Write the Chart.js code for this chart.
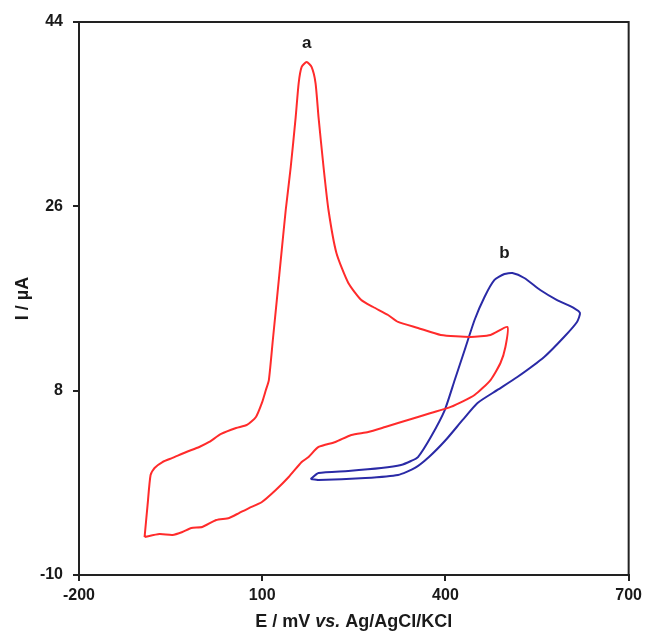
<!DOCTYPE html>
<html>
<head>
<meta charset="utf-8">
<script src="https://cdn.jsdelivr.net/npm/chart.js@4/dist/chart.umd.min.js"></script>
<style>
  html, body { margin: 0; padding: 0; background: #fff; }
  #wrap { width: 647px; height: 631px; }
</style>
</head>
<body>
<div id="wrap"><canvas id="c" width="647" height="631"></canvas></div>
<script>
// Curve a (red): potential (mV) and current (µA)
const potentialA = [-92.6,-87.7,-82.8,-76.3,-63.3,-47.0,-24.2,-3.1,13.2,32.7,57.2,75.0,89.7,99.5,106.0,110.9,117.4,123.9,132.0,138.5,146.7,154.8,159.7,164.6,172.7,180.8,187.3,192.2,200.4,208.5,221.5,241.0,262.2,281.7,306.1,322.4,355.0,392.4,441.2,473.8,501.5,498.2,490.1,473.8,447.7,408.7,376.1,355.0,322.4,301.3,273.6,245.9,219.9,192.2,175.9,164.6,143.4,122.2,99.5,78.3,62.0,45.8,24.6,1.8,-16.1,-30.7,-47.0,-68.2,-92.6];
const currentA   = [-6.29,-3.16,-0.24,0.45,1.03,1.43,2.01,2.50,2.99,3.77,4.35,4.65,5.43,6.80,8.07,9.04,12.95,16.85,21.74,25.64,29.84,34.72,38.04,39.61,40.09,39.61,38.04,34.72,29.84,25.64,21.44,18.51,16.85,16.17,15.39,14.71,14.12,13.44,13.24,13.44,14.22,12.26,10.70,9.04,7.58,6.41,5.82,5.43,4.84,4.45,3.96,3.67,2.99,2.50,1.52,1.03,-0.43,-1.70,-2.87,-3.46,-3.95,-4.43,-4.63,-5.31,-5.41,-5.80,-6.09,-6.00,-6.29];

// Curve b (blue)
const potentialB = [179.2,192.2,241.0,294.8,327.3,343.6,355.0,376.1,398.9,415.2,431.5,447.7,464.0,480.3,496.6,509.6,529.1,555.2,582.8,610.5,620.3,615.4,594.2,561.7,517.7,485.2,452.6,428.2,400.5,373.0,350.1,322.4,268.7,192.2,179.2];
const currentB   = [-0.63,-0.04,0.16,0.45,0.74,1.13,1.52,3.48,6.11,9.04,11.97,14.90,17.15,18.81,19.39,19.49,19.00,17.83,16.85,16.07,15.58,14.71,13.24,11.29,9.33,8.07,6.80,5.14,3.18,1.52,0.45,-0.23,-0.53,-0.72,-0.63];

const xTicks = [-200, 100, 400, 700];
const yTicks = [-10, 8, 26, 44];

const curveLabels = ['a', 'b'];
const labelPotential = [172.7, 496.6];
const labelCurrent = [41.95, 21.44];

const xTitleParts = ['E / mV ', 'vs.', ' Ag/AgCl/KCl'];
const yTitle = 'I / µA';

const FONT = '"Liberation Sans", Arial, sans-serif';
const INK = '#1a1a1a';

const toPts = (xs, ys) => xs.map((x, i) => ({ x: x, y: ys[i] }));

const framePlugin = {
  id: 'frame',
  afterDraw(chart) {
    const { ctx, chartArea: a, scales } = chart;
    ctx.save();
    ctx.strokeStyle = '#222';
    ctx.lineWidth = 2;
    ctx.strokeRect(a.left, a.top, a.right - a.left, a.bottom - a.top);
    // curve labels
    ctx.fillStyle = INK;
    ctx.font = 'bold 17px ' + FONT;
    ctx.textAlign = 'center';
    ctx.textBaseline = 'middle';
    curveLabels.forEach((t, i) => {
      ctx.fillText(t, scales.x.getPixelForValue(labelPotential[i]), scales.y.getPixelForValue(labelCurrent[i]));
    });
    // x axis title with italic "vs."
    const fonts = ['bold 18px ' + FONT, 'italic bold 18px ' + FONT, 'bold 18px ' + FONT];
    const widths = xTitleParts.map((p, i) => { ctx.font = fonts[i]; return ctx.measureText(p).width; });
    const total = widths.reduce((s, w) => s + w, 0);
    let x = (a.left + a.right) / 2 - total / 2;
    ctx.textAlign = 'left';
    ctx.textBaseline = 'middle';
    xTitleParts.forEach((p, i) => {
      ctx.font = fonts[i];
      ctx.fillText(p, x, 622);
      x += widths[i];
    });
    ctx.restore();
  }
};

new Chart(document.getElementById('c'), {
  type: 'scatter',
  data: {
    datasets: [
      { label: 'a', data: toPts(potentialA, currentA), showLine: true, borderColor: '#ff2b2b', borderWidth: 2, pointRadius: 0, tension: 0.2, fill: false },
      { label: 'b', data: toPts(potentialB, currentB), showLine: true, borderColor: '#2a2aa6', borderWidth: 2, pointRadius: 0, tension: 0.2, fill: false }
    ]
  },
  options: {
    responsive: false,
    animation: false,
    layout: { padding: { left: 0, top: 22, right: 15, bottom: 0 } },
    plugins: { legend: { display: false }, tooltip: { enabled: false } },
    scales: {
      x: {
        type: 'linear', min: -200, max: 700,
        afterBuildTicks: s => { s.ticks = xTicks.map(v => ({ value: v })); },
        afterFit: s => { s.height = 56; },
        grid: { display: true, drawOnChartArea: false, drawTicks: true, tickLength: 6, color: '#222', lineWidth: 2 },
        border: { display: true, color: '#222', width: 2 },
        ticks: { color: INK, font: { family: FONT, size: 16, weight: 'bold' }, padding: 5, maxRotation: 0, autoSkip: false }
      },
      y: {
        type: 'linear', min: -10, max: 44,
        afterBuildTicks: s => { s.ticks = yTicks.map(v => ({ value: v })); },
        afterFit: s => { s.width = 79; },
        grid: { display: true, drawOnChartArea: false, drawTicks: true, tickLength: 6, color: '#222', lineWidth: 2 },
        border: { display: true, color: '#222', width: 2 },
        title: { display: true, text: yTitle, color: INK, font: { family: FONT, size: 18, weight: 'bold' }, padding: { top: 12, bottom: 4 } },
        ticks: { color: INK, font: { family: FONT, size: 16, weight: 'bold' }, padding: 10, autoSkip: false }
      }
    }
  },
  plugins: [framePlugin]
});
</script>
</body>
</html>
